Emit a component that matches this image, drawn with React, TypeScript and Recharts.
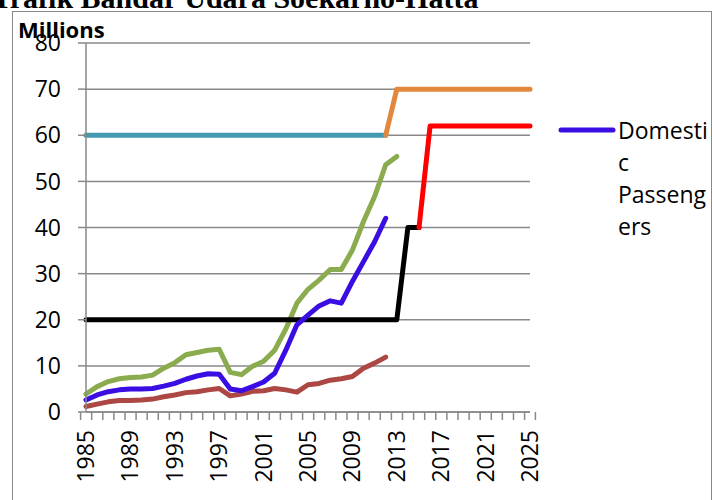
import { LineChart, Line, XAxis, YAxis, CartesianGrid } from "recharts";

const years = [
  "1985", "1986", "1987", "1988", "1989", "1990", "1991", "1992", "1993", "1994",
  "1995", "1996", "1997", "1998", "1999", "2000", "2001", "2002", "2003", "2004",
  "2005", "2006", "2007", "2008", "2009", "2010", "2011", "2012", "2013", "2014",
  "2015", "2016", "2017", "2018", "2019", "2020", "2021", "2022", "2023", "2024",
  "2025",
];

// millions of passengers per year
const totalPassengers = [
  3.9, 5.5, 6.6, 7.2, 7.5, 7.6, 8.0, 9.5, 10.7, 12.4,
  12.9, 13.4, 13.6, 8.6, 8.1, 9.9, 11.0, 13.4, 18.0, 23.6,
  26.6, 28.6, 30.9, 30.9, 35.1, 41.3, 46.7, 53.6, 55.4, null,
  null, null, null, null, null, null, null, null, null, null,
  null,
];
const domesticPassengers = [
  2.6, 3.7, 4.4, 4.8, 5.0, 5.0, 5.1, 5.6, 6.2, 7.1,
  7.8, 8.3, 8.2, 5.0, 4.6, 5.5, 6.5, 8.4, 13.4, 18.9,
  21.0, 23.0, 24.1, 23.6, 28.3, 32.6, 36.9, 42.0, null, null,
  null, null, null, null, null, null, null, null, null, null,
  null,
];
const internationalPassengers = [
  1.2, 1.7, 2.2, 2.5, 2.5, 2.6, 2.8, 3.3, 3.7, 4.2,
  4.4, 4.8, 5.1, 3.5, 3.9, 4.5, 4.6, 5.1, 4.8, 4.3,
  5.9, 6.2, 6.9, 7.2, 7.7, 9.5, 10.6, 11.9, null, null,
  null, null, null, null, null, null, null, null, null, null,
  null,
];

// terminal capacity, millions of passengers
const capacityDomestic = [
  20, 20, 20, 20, 20, 20, 20, 20, 20, 20,
  20, 20, 20, 20, 20, 20, 20, 20, 20, 20,
  20, 20, 20, 20, 20, 20, 20, 20, 20, 40,
  40, null, null, null, null, null, null, null, null, null,
  null,
];
const capacityDomesticPlan = [
  null, null, null, null, null, null, null, null, null, null,
  null, null, null, null, null, null, null, null, null, null,
  null, null, null, null, null, null, null, null, null, null,
  40, 62, 62, 62, 62, 62, 62, 62, 62, 62,
  62,
];
const capacityTotal = [
  60, 60, 60, 60, 60, 60, 60, 60, 60, 60,
  60, 60, 60, 60, 60, 60, 60, 60, 60, 60,
  60, 60, 60, 60, 60, 60, 60, 60, null, null,
  null, null, null, null, null, null, null, null, null, null,
  null,
];
const capacityTotalPlan = [
  null, null, null, null, null, null, null, null, null, null,
  null, null, null, null, null, null, null, null, null, null,
  null, null, null, null, null, null, null, 60, 70, 70,
  70, 70, 70, 70, 70, 70, 70, 70, 70, 70,
  70,
];

const yTicks = [0, 10, 20, 30, 40, 50, 60, 70, 80];

const data = years.map((year, i) => ({
  year,
  total: totalPassengers[i],
  domestic: domesticPassengers[i],
  international: internationalPassengers[i],
  capDom: capacityDomestic[i],
  capDomPlan: capacityDomesticPlan[i],
  capTotal: capacityTotal[i],
  capTotalPlan: capacityTotalPlan[i],
}));

const W = 712;
const H = 500;
const PLOT_LEFT = 86;
const PLOT_RIGHT = 530;
const PLOT_W = PLOT_RIGHT - PLOT_LEFT;
const GRAY = "#898989";
const FONT = "'Open Sans', sans-serif";

// category ticks sit between the years, labels every fourth year
function YearTick(props: any) {
  const { x, y, payload, index } = props;
  const band = PLOT_W / years.length;
  const ty = y + 18;
  return (
    <g>
      <line x1={x - band / 2} x2={x - band / 2} y1={y} y2={y + 8} stroke={GRAY} strokeWidth={1.5} />
      {index === years.length - 1 && (
        <line x1={x + band / 2} x2={x + band / 2} y1={y} y2={y + 8} stroke={GRAY} strokeWidth={1.5} />
      )}
      {index % 4 === 0 && (
        <text
          x={x}
          y={ty}
          dy="0.35em"
          textAnchor="end"
          transform={`rotate(-90 ${x} ${ty})`}
          fill="#000"
          fontSize={23}
          fontFamily={FONT}
        >
          {payload.value}
        </text>
      )}
    </g>
  );
}

function DomesticLegend() {
  return (
    <div style={{ position: "absolute", left: 558, top: 114, display: "flex", alignItems: "flex-start" }}>
      <svg width={60} height={20} style={{ marginTop: 6 }}>
        <line x1={3} x2={55} y1={10} y2={10} stroke="#3a0de3" strokeWidth={5} strokeLinecap="round" />
      </svg>
      <div
        style={{
          width: 93,
          overflowWrap: "anywhere",
          fontFamily: FONT,
          fontSize: 23,
          lineHeight: "32px",
          color: "#000",
        }}
      >
        Domestic Passengers
      </div>
    </div>
  );
}

export default function App() {
  const lineProps = {
    type: "linear" as const,
    strokeWidth: 5,
    dot: false,
    activeDot: false,
    strokeLinecap: "round" as const,
    strokeLinejoin: "round" as const,
    isAnimationActive: false,
    connectNulls: false,
  };
  return (
    <div style={{ position: "absolute", left: 0, top: 0, width: W, height: H, overflow: "hidden", background: "#fff" }}>
      <svg width={W} height={20} style={{ position: "absolute", left: 0, top: 0 }}>
        <text x={-8} y={8} fontFamily="'Liberation Serif', serif" fontWeight="bold" fontSize={30} fill="#000">
          Trafik Bandar Udara Soekarno-Hatta
        </text>
      </svg>
      <div
        style={{
          position: "absolute",
          left: 12,
          top: 11,
          width: 700,
          height: 600,
          border: `1.5px solid ${GRAY}`,
          boxSizing: "border-box",
        }}
      />
      <div style={{ position: "absolute", left: 0, top: 0 }}>
        <LineChart width={W} height={H} data={data} margin={{ top: 43, right: W - PLOT_RIGHT, bottom: 0, left: 0 }}>
          <CartesianGrid vertical={false} stroke={GRAY} strokeWidth={1.5} />
          <XAxis
            dataKey="year"
            interval={0}
            height={88}
            tickLine={false}
            tickSize={0}
            tickMargin={0}
            axisLine={{ stroke: GRAY, strokeWidth: 1.5 }}
            tick={<YearTick />}
          />
          <YAxis
            width={PLOT_LEFT}
            domain={[0, 80]}
            ticks={yTicks}
            tickSize={8}
            tickMargin={17}
            axisLine={{ stroke: GRAY, strokeWidth: 1.5 }}
            tickLine={{ stroke: GRAY, strokeWidth: 1.5 }}
            tick={{ fill: "#000", fontSize: 23, fontFamily: FONT }}
          />
          <Line {...lineProps} dataKey="capTotal" name="Capacity" stroke="#4399b0" />
          <Line {...lineProps} dataKey="capTotalPlan" name="Capacity plan" stroke="#e3873c" />
          <Line {...lineProps} dataKey="total" name="Total Passengers" stroke="#8aab4e" />
          <Line {...lineProps} dataKey="international" name="International Passengers" stroke="#ac4743" />
          <Line {...lineProps} dataKey="capDom" name="Domestic Capacity" stroke="#000000" />
          <Line {...lineProps} dataKey="domestic" name="Domestic Passengers" stroke="#3a0de3" />
          <Line {...lineProps} dataKey="capDomPlan" name="Domestic Capacity plan" stroke="#ff0000" />
        </LineChart>
      </div>
      <DomesticLegend />
      <div
        style={{
          position: "absolute",
          left: 18,
          top: 16,
          fontFamily: FONT,
          fontWeight: 700,
          fontSize: 22,
          lineHeight: "26px",
          color: "#000",
        }}
      >
        Millions
      </div>
    </div>
  );
}
